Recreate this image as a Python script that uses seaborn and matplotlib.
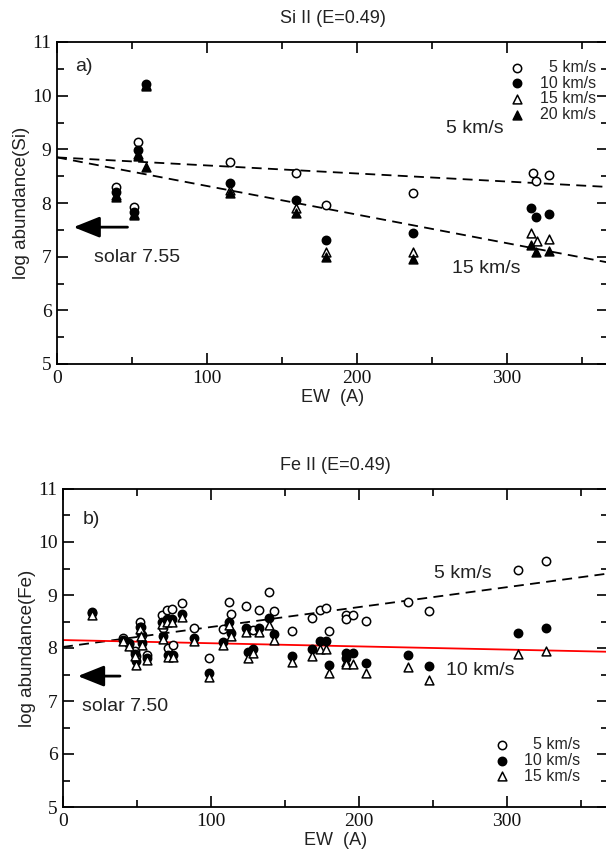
import numpy as np
import seaborn as sns
import matplotlib.pyplot as plt
from matplotlib.ticker import MultipleLocator

# ---- Si II data (EW in A, log abundance) ----
si_v5_x = [39.5, 51.5, 54, 115, 159, 179, 237, 317, 319, 328]
si_v5_y = [8.30, 7.93, 9.14, 8.77, 8.56, 7.96, 8.18, 8.56, 8.41, 8.53]
si_v10_x = [39.5, 51.5, 54, 59, 115, 159, 179, 237, 316, 319, 328]
si_v10_y = [8.21, 7.83, 8.98, 10.22, 8.37, 8.05, 7.31, 7.44, 7.90, 7.74, 7.79]
si_v15_x = [39.5, 51.5, 54, 59, 115, 159, 179, 237, 316, 320, 328]
si_v15_y = [8.15, 7.80, 8.92, 10.20, 8.24, 7.90, 7.09, 7.08, 7.44, 7.29, 7.32]
si_v20_x = [39.5, 51.5, 54, 59, 59, 115, 159, 179, 237, 316, 319, 328]
si_v20_y = [8.11, 7.77, 8.88, 10.18, 8.67, 8.18, 7.81, 6.99, 6.96, 7.21, 7.09, 7.11]

# fitted trends (intercept, slope)
si_fit_5 = (8.85, -0.0015)
si_fit_15 = (8.85, -0.00533)

# ---- Fe II data ----
fe_ew = [19.8, 40.7, 44.7, 48.4, 49.0, 52.0, 53.0, 53.5, 57.0, 66.7,
         67.8, 70.0, 71.2, 73.4, 74.5, 80.6, 88.5, 98.6, 108.3, 112.4,
         113.3, 123.6, 125.2, 128.2, 132.6, 139.4, 142.8, 154.5, 168.4, 173.6,
         177.5, 179.7, 191.2, 191.5, 196.2, 204.5, 233.3, 247.5, 307.6, 326.4]
fe_v5 = [8.66, 8.19, 8.10, 7.95, 7.85, 8.50, 8.40, 8.25, 7.87, 8.62,
         8.37, 8.72, 8.00, 8.73, 8.06, 8.84, 8.37, 7.82, 8.35, 8.86,
         8.65, 8.79, 8.34, 8.34, 8.72, 9.05, 8.70, 8.33, 8.56, 8.72,
         8.75, 8.33, 8.62, 8.54, 8.62, 8.51, 8.86, 8.70, 9.47, 9.65]
fe_v10 = [8.67, 8.16, 8.07, 7.88, 7.75, 8.40, 8.27, 8.10, 7.82, 8.49,
          8.22, 8.55, 7.87, 8.54, 7.87, 8.65, 8.18, 7.52, 8.12, 8.50,
          8.29, 8.37, 7.93, 7.99, 8.37, 8.56, 8.27, 7.84, 7.98, 8.13,
          8.13, 7.68, 7.90, 7.82, 7.90, 7.72, 7.87, 7.66, 8.28, 8.37]
fe_v15 = [8.63, 8.13, 8.04, 7.84, 7.68, 8.35, 8.22, 8.05, 7.78, 8.46,
          8.17, 8.50, 7.83, 8.50, 7.83, 8.58, 8.14, 7.45, 8.06, 8.43,
          8.23, 8.30, 7.81, 7.90, 8.30, 8.43, 8.16, 7.74, 7.85, 7.98,
          7.98, 7.52, 7.74, 7.70, 7.70, 7.53, 7.65, 7.40, 7.89, 7.94]

fe_fit_5 = (8.02, 0.00376)
fe_fit_10 = (8.15, -0.0006)

sns.set_theme(style="ticks")
plt.rcParams["font.family"] = ["Liberation Sans", "DejaVu Sans"]
plt.rcParams["axes.linewidth"] = 1.3

fig = plt.figure(figsize=(6.06, 8.5), dpi=100)
W, H = 606, 850
ax1 = fig.add_axes([57 / W, 1 - 364 / H, (608 - 57) / W, (364 - 42) / H])
ax2 = fig.add_axes([63 / W, 1 - 807 / H, (608 - 63) / W, (807 - 489) / H])

open_c = dict(marker="o", facecolor="white", edgecolor="black", s=36, linewidth=1.1)
fill_c = dict(marker="o", facecolor="black", edgecolor="black", s=36, linewidth=1.1)
open_t = dict(marker="^", facecolor="white", edgecolor="black", s=40, linewidth=1.1)
fill_t = dict(marker="^", facecolor="black", edgecolor="black", s=40, linewidth=1.1)

# top panel
sns.scatterplot(x=si_v5_x, y=si_v5_y, ax=ax1, label="  5 km/s", zorder=3, **open_c)
sns.scatterplot(x=si_v10_x, y=si_v10_y, ax=ax1, label="10 km/s", zorder=3, **fill_c)
sns.scatterplot(x=si_v15_x, y=si_v15_y, ax=ax1, label="15 km/s", zorder=3, **open_t)
sns.scatterplot(x=si_v20_x, y=si_v20_y, ax=ax1, label="20 km/s", zorder=3, **fill_t)

# bottom panel
sns.scatterplot(x=fe_ew, y=fe_v5, ax=ax2, label="  5 km/s", zorder=3, **open_c)
sns.scatterplot(x=fe_ew, y=fe_v10, ax=ax2, label="10 km/s", zorder=3, **fill_c)
sns.scatterplot(x=fe_ew, y=fe_v15, ax=ax2, label="15 km/s", zorder=3, **open_t)

dash = (0, (5.5, 3.5))
xr1 = np.array([0, 370])
ax1.plot(xr1, si_fit_5[0] + si_fit_5[1] * xr1, color="black", lw=1.3, ls=dash, zorder=2)
ax1.plot(xr1, si_fit_15[0] + si_fit_15[1] * xr1, color="black", lw=1.3, ls=dash, zorder=2)
xr2 = np.array([0, 370])
ax2.plot(xr2, fe_fit_5[0] + fe_fit_5[1] * xr2, color="black", lw=1.3, ls=dash, zorder=2)
ax2.plot(xr2, fe_fit_10[0] + fe_fit_10[1] * xr2, color="red", lw=1.3, zorder=2)

ann = dict(fontsize=14, color="#222222", va="center", ha="left")
ax1.text(259, 9.38, "5 km/s", **ann)
ax1.text(263, 6.78, "15 km/s", **ann)
ax1.text(25, 6.99, "solar 7.55", **ann)
ax1.text(12, 10.54, "a)", **ann)
ax2.text(251, 9.41, "5 km/s", **ann)
ax2.text(259, 7.57, "10 km/s", **ann)
ax2.text(13, 6.9, "solar 7.50", **ann)
ax2.text(13, 10.42, "b)", **ann)

arrow = dict(arrowstyle="-|>,head_length=1.0,head_width=0.4", color="black",
             lw=2.0, shrinkA=0, shrinkB=0, mutation_scale=16)
ax1.annotate("", xy=(11, 7.55), xytext=(47, 7.55), arrowprops=arrow)
ax2.annotate("", xy=(10, 7.47), xytext=(38.5, 7.47), arrowprops=arrow)

for ax, title, ylab, xmax in [(ax1, "Si II (E=0.49)", "log abundance(Si)", (608 - 57) / 1.5),
                              (ax2, "Fe II (E=0.49)", "log abundance(Fe)", (608 - 63) / 1.48)]:
    ax.set_xlim(0, xmax)
    ax.set_ylim(5, 11)
    ax.xaxis.set_major_locator(MultipleLocator(100))
    ax.xaxis.set_minor_locator(MultipleLocator(50))
    ax.yaxis.set_major_locator(MultipleLocator(1))
    ax.yaxis.set_minor_locator(MultipleLocator(0.5))
    ax.tick_params(which="both", direction="in", top=True, right=True,
                   color="black", width=1.2, pad=4, labelsize=14,
                   labelfontfamily="Liberation Serif", labelcolor="#111111")
    ax.tick_params(which="major", length=8)
    ax.tick_params(which="minor", length=5)
    for sp in ax.spines.values():
        sp.set_color("black")
    ax.set_title(title, fontsize=13, color="#222222", pad=14)
    ax.set_xlabel("EW  (A)", fontsize=13, color="#222222", labelpad=2)
    ax.set_ylabel(ylab, fontsize=13.5, color="#222222", labelpad=1)

ax1.legend(loc="upper right", bbox_to_anchor=(0.978, 0.945), frameon=False, fontsize=11.5,
           labelspacing=0.05, handletextpad=0.9, handlelength=1.0, borderpad=0,
           borderaxespad=0)
ax2.legend(loc="upper right", bbox_to_anchor=(0.95, 0.22), frameon=False, fontsize=11.5,
           labelspacing=0.05, handletextpad=0.9, handlelength=1.0, borderpad=0,
           borderaxespad=0)

fig.savefig("out.png", dpi=100)
